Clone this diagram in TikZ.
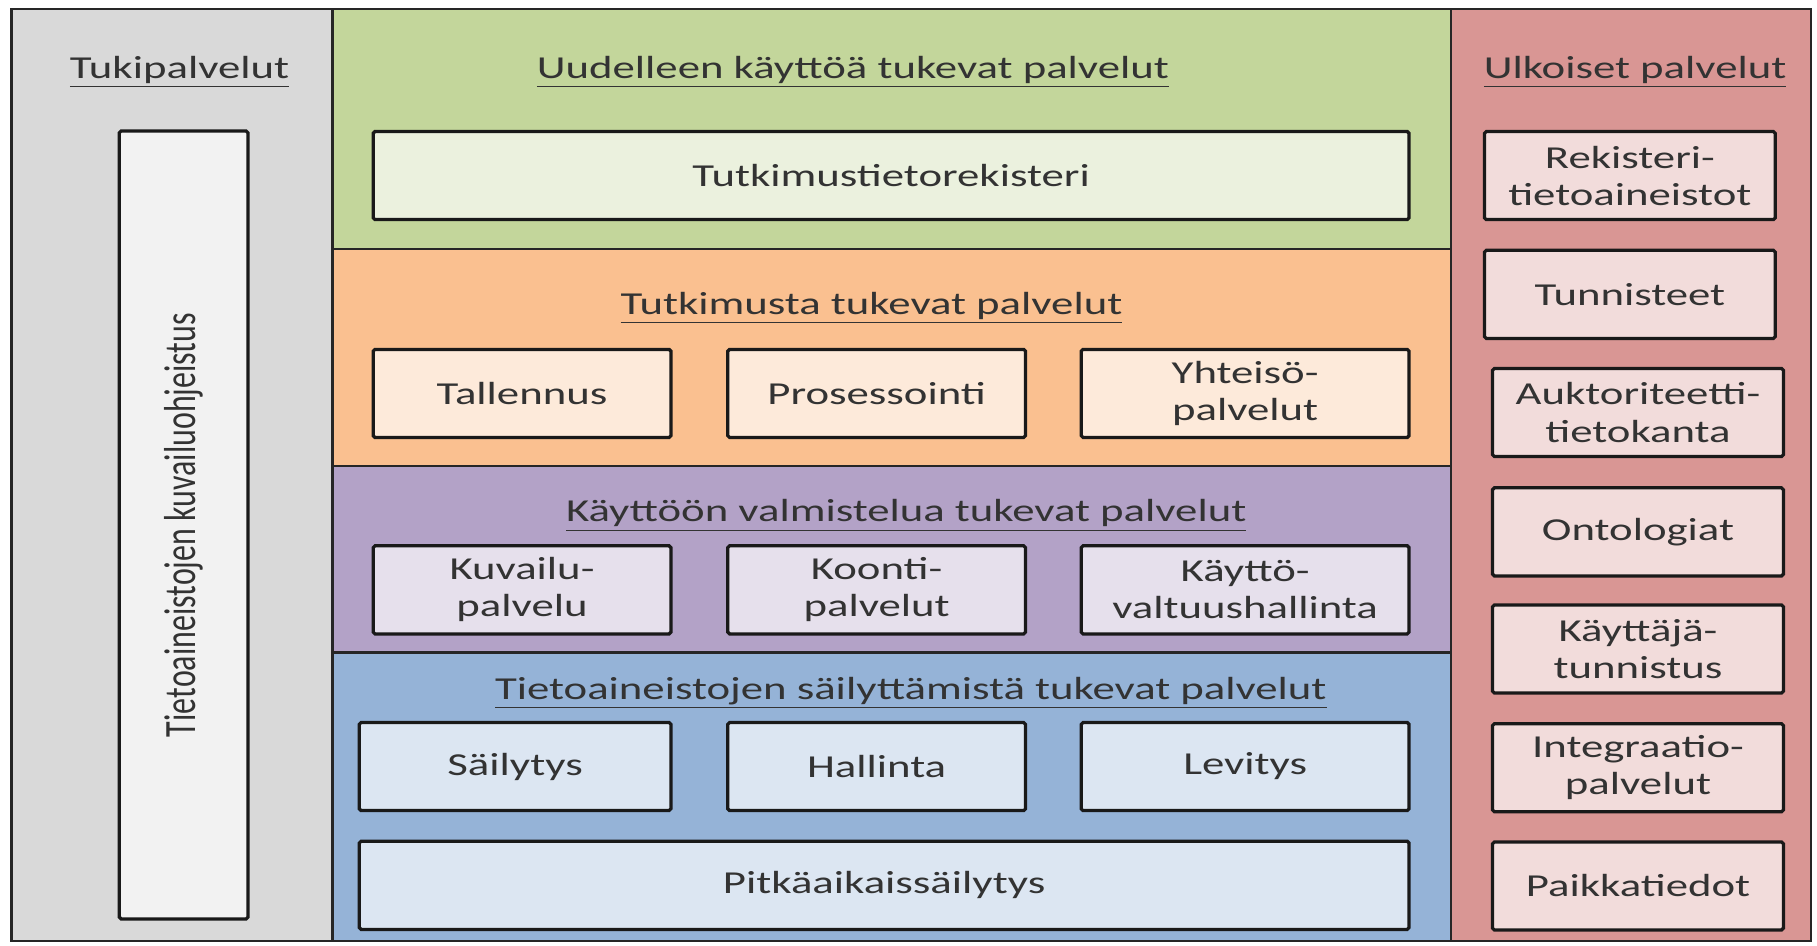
\documentclass[tikz,border=0pt]{standalone}
\usepackage{fontspec}
\setmainfont{Carlito}[FakeStretch=1.4]
\newfontfamily\flatfont{Carlito}

\definecolor{tukigray}{HTML}{D9D9D9}
\definecolor{tukiboxgray}{HTML}{F2F2F2}
\definecolor{uusigreen}{HTML}{C3D69B}
\definecolor{uusiboxgreen}{HTML}{EBF1DE}
\definecolor{tutkorange}{HTML}{FAC090}
\definecolor{tutkboxorange}{HTML}{FDEADA}
\definecolor{valmpurple}{HTML}{B3A2C7}
\definecolor{valmboxpurple}{HTML}{E6E0EC}
\definecolor{sailblue}{HTML}{95B3D7}
\definecolor{sailboxblue}{HTML}{DCE6F2}
\definecolor{ulkored}{HTML}{D99694}
\definecolor{ulkoboxred}{HTML}{F2DCDB}

\begin{document}
\begin{tikzpicture}[x=0.5pt, y=-0.5pt,
   every node/.style={font=\fontsize{13.8}{16}\selectfont, text=black!80},
   panel/.style={draw=black!85, line width=1pt},
   box/.style={draw=black!90, line width=1.4pt, rounded corners=0.8pt,
               align=center, inner sep=0pt, minimum height=38pt}]

\useasboundingbox (0,0) rectangle (1568,815.5);

% panels
\draw[panel, fill=tukigray]   (10,8)    rectangle (287,812);
\draw[panel, fill=uusigreen]  (287,8)   rectangle (1252,215);
\draw[panel, fill=tutkorange] (287,215) rectangle (1252,402);
\draw[panel, fill=valmpurple] (287,402) rectangle (1252,563);
\draw[panel, fill=sailblue]   (287,563) rectangle (1252,812);
\draw[panel, fill=ulkored]    (1252,8)  rectangle (1563,812);

% headings
\node (tukititle) at (155,62)  {\underline{Tukipalvelut}};
\node (uusititle) at (736,62)  {\underline{Uudelleen käyttöä tukevat palvelut}};
\node (ulkotitle) at (1411,62) {\underline{Ulkoiset palvelut}};
\node (tutktitle) at (752,266) {\underline{Tutkimusta tukevat palvelut}};
\node (valmtitle) at (782,445) {\underline{Käyttöön valmistelua tukevat palvelut}};
\node (sailtitle) at (786,598) {\underline{Tietoaineistojen säilyttämistä tukevat palvelut}};

% tukipalvelut
\node[box, fill=tukiboxgray, minimum width=55.5pt, minimum height=340pt]
   (kuvailubox) at (158.5,453) {};
\node[xscale=1.4, rotate=90, font=\flatfont\fontsize{13.8}{16}\selectfont]
   (kuvailu) at (kuvailubox.center) {Tietoaineistojen kuvailuohjeistus};

% uudelleenkaytto
\node[box, fill=uusiboxgreen, minimum width=447pt] (rekisteri) at (769,151.5) {Tutkimustietorekisteri};

% tutkimus
\node[box, fill=tutkboxorange, minimum width=128.5pt] (tallennus)   at (450.5,339.5)  {Tallennus};
\node[box, fill=tutkboxorange, minimum width=128.5pt] (prosessointi) at (756.5,339.5) {Prosessointi};
\node[box, fill=tutkboxorange, minimum width=141.5pt] (yhteiso)     at (1074.5,339.5) {Yhteisö-\\palvelut};

% kayttoon valmistelu
\node[box, fill=valmboxpurple, minimum width=128.5pt] (kuvailupalvelu) at (450.5,509) {Kuvailu-\\palvelu};
\node[box, fill=valmboxpurple, minimum width=128.5pt] (koonti)  at (756.5,509)  {Koonti-\\palvelut};
\node[box, fill=valmboxpurple, minimum width=141.5pt] (valtuus) at (1074.5,509) {Käyttö-\\valtuushallinta};

% sailytys
\node[box, fill=sailboxblue, minimum width=134.5pt] (sailytys) at (444.5,661.5)  {Säilytys};
\node[box, fill=sailboxblue, minimum width=128.5pt] (hallinta) at (756.5,661.5)  {Hallinta};
\node[box, fill=sailboxblue, minimum width=141.5pt] (levitys)  at (1074.5,661.5) {Levitys};
\node[box, fill=sailboxblue, minimum width=453pt] (pitka) at (763,764) {Pitkäaikaissäilytys};

% ulkoiset
\node[box, fill=ulkoboxred, minimum width=125.5pt] (rekisteritieto) at (1406.5,151.5) {Rekisteri-\\tietoaineistot};
\node[box, fill=ulkoboxred, minimum width=125.5pt] (tunnisteet)     at (1406.5,254)   {Tunnisteet};
\node[box, fill=ulkoboxred, minimum width=125.5pt] (auktoriteetti)  at (1413.5,356)   {Auktoriteetti-\\tietokanta};
\node[box, fill=ulkoboxred, minimum width=125.5pt] (ontologiat)     at (1413.5,459)   {Ontologiat};
\node[box, fill=ulkoboxred, minimum width=125.5pt] (tunnistus)      at (1413.5,560)   {Käyttäjä-\\tunnistus};
\node[box, fill=ulkoboxred, minimum width=125.5pt] (integraatio)    at (1413.5,662.5) {Integraatio-\\palvelut};
\node[box, fill=ulkoboxred, minimum width=125.5pt] (paikka)         at (1413.5,764.5) {Paikkatiedot};

\end{tikzpicture}
\end{document}
